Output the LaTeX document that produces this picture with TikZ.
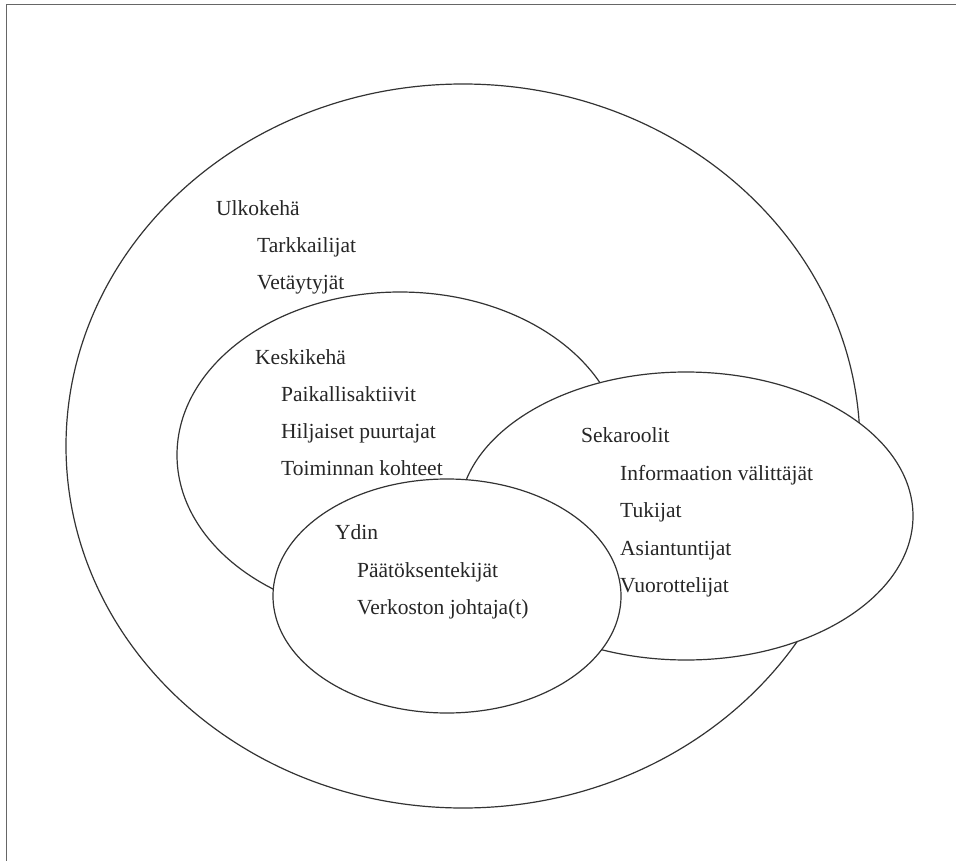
\documentclass[tikz,border=0pt]{standalone}
\usepackage{fontspec}
\setmainfont{Liberation Serif}
\usetikzlibrary{shapes.geometric}
\begin{document}
\begin{tikzpicture}[x=1pt,y=-1pt,
  ring/.style={ellipse, draw=black!80, line width=1.2pt, fill=white, inner sep=0pt, outer sep=0pt},
  frameline/.style={draw=black!60, line width=1pt},
  lbl/.style={anchor=base west, inner sep=0pt, font=\fontsize{21.5}{25}\selectfont, text=black!85}]
\useasboundingbox (0,0) rectangle (956,861);
\coordinate (fb) at (6,861);
\coordinate (fc) at (6,5);
\coordinate (fr) at (956,5);
\draw[frameline] (fb) -- (fc) -- (fr);
% ellipses
\node[ring, minimum width=794pt, minimum height=724pt] (outer) at (463,446) {};
\node[ring, minimum width=446pt, minimum height=326pt] (middle) at (400,455) {};
\node[ring, minimum width=454pt, minimum height=288pt] (mixed) at (686,516) {};
\node[ring, minimum width=348pt, minimum height=234pt] (core) at (447,596) {};
% texts
\node[lbl] (t1) at (216,216) {Ulkokehä};
\node[lbl] (t2) at (257,253) {Tarkkailijat};
\node[lbl] (t3) at (257,290) {Vetäytyjät};
\node[lbl] (t4) at (255,364) {Keskikehä};
\node[lbl] (t5) at (281,401) {Paikallisaktiivit};
\node[lbl] (t6) at (281,438) {Hiljaiset puurtajat};
\node[lbl] (t7) at (281,475) {Toiminnan kohteet};
\node[lbl] (t8) at (581,442) {Sekaroolit};
\node[lbl] (t9) at (620,480) {Informaation välittäjät};
\node[lbl] (t10) at (620,517) {Tukijat};
\node[lbl] (t11) at (620,555) {Asiantuntijat};
\node[lbl] (t12) at (620,592) {Vuorottelijat};
\node[lbl] (t13) at (335,539) {Ydin};
\node[lbl] (t14) at (357,577) {Päätöksentekijät};
\node[lbl] (t15) at (357,614) {Verkoston johtaja(t)};
\end{tikzpicture}
\end{document}
